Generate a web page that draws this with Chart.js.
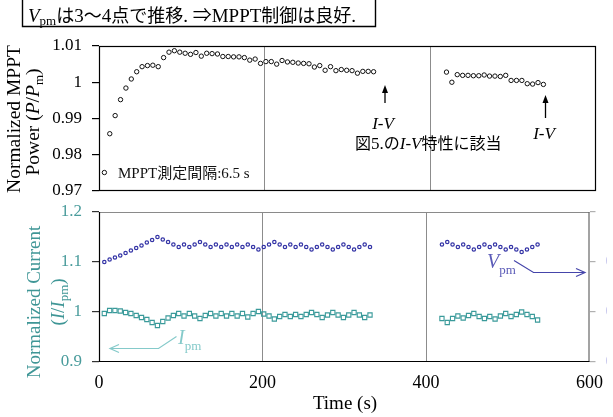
<!DOCTYPE html>
<html><head><meta charset="utf-8">
<script src="https://cdn.jsdelivr.net/npm/chart.js@4.4.1/dist/chart.umd.min.js"></script>
<style>
html,body{margin:0;padding:0;background:#fff;overflow:hidden;width:613px;height:417px;}
canvas{position:absolute;left:0;top:0;}
</style></head>
<body>
<canvas id="top" width="613" height="417"></canvas>
<canvas id="bot" width="613" height="417"></canvas>
<script>
// ---- data (time in s) ----
const times1 = [6.5, 13, 19.5, 26, 32.5, 39, 45.5, 52, 58.5, 65, 71.5, 78, 84.5, 91, 97.5, 104, 110.5, 117, 123.5, 130, 136.5, 143, 149.5, 156, 162.5, 169, 175.5, 182, 188.5, 195, 201.5, 208, 214.5, 221, 227.5, 234, 240.5, 247, 253.5, 260, 266.5, 273, 279.5, 286, 292.5, 299, 305.5, 312, 318.5, 325, 331.5];
const times2 = [419.5, 426, 432.5, 439, 445.5, 452, 458.5, 465, 471.5, 478, 484.5, 491, 497.5, 504, 510.5, 517, 523.5, 530, 536.5];
const power1 = [0.9751, 0.9858, 0.9908, 0.9952, 0.9984, 1.0009, 1.0029, 1.0043, 1.0046, 1.0047, 1.0043, 1.0068, 1.0083, 1.0087, 1.0083, 1.0080, 1.0077, 1.0082, 1.0072, 1.0080, 1.0079, 1.0078, 1.0071, 1.0071, 1.0070, 1.0070, 1.0068, 1.0061, 1.0064, 1.0052, 1.0057, 1.0057, 1.0050, 1.0060, 1.0056, 1.0055, 1.0053, 1.0052, 1.0051, 1.0042, 1.0046, 1.0033, 1.0043, 1.0032, 1.0035, 1.0033, 1.0032, 1.0025, 1.0030, 1.0030, 1.0029];
const power2 = [1.0028, 1.0000, 1.0021, 1.0019, 1.0019, 1.0018, 1.0018, 1.0020, 1.0017, 1.0017, 1.0016, 1.0019, 1.0005, 1.0005, 1.0005, 0.9996, 0.9995, 0.9999, 0.9994];
const ipm1 = [0.997, 1.003, 1.003, 1.002, 0.999, 0.997, 0.993, 0.989, 0.985, 0.979, 0.973, 0.981, 0.988, 0.993, 0.997, 0.992, 0.997, 0.992, 0.987, 0.993, 0.997, 0.992, 0.997, 0.992, 0.997, 0.992, 0.997, 0.990, 0.997, 1.001, 0.996, 0.992, 0.986, 0.991, 0.995, 0.991, 0.995, 0.991, 0.995, 0.999, 0.995, 0.989, 0.994, 0.999, 0.994, 0.989, 0.994, 0.999, 0.994, 0.989, 0.994];
const ipm2 = [0.987, 0.979, 0.987, 0.992, 0.988, 0.993, 0.997, 0.991, 0.987, 0.991, 0.986, 0.992, 0.997, 0.991, 0.995, 1.000, 0.995, 0.991, 0.984];
const vpm1 = [0.900, 0.905, 0.909, 0.913, 0.918, 0.923, 0.928, 0.933, 0.939, 0.944, 0.950, 0.945, 0.940, 0.935, 0.930, 0.935, 0.930, 0.935, 0.940, 0.935, 0.930, 0.935, 0.930, 0.935, 0.930, 0.935, 0.930, 0.935, 0.930, 0.925, 0.930, 0.935, 0.940, 0.935, 0.930, 0.935, 0.930, 0.935, 0.930, 0.925, 0.930, 0.935, 0.930, 0.925, 0.930, 0.935, 0.930, 0.925, 0.930, 0.935, 0.930];
const vpm2 = [0.935, 0.940, 0.935, 0.930, 0.935, 0.930, 0.925, 0.930, 0.935, 0.930, 0.935, 0.930, 0.925, 0.930, 0.925, 0.920, 0.925, 0.930, 0.935];

// ---- ticks ----
const xTicks = [0, 200, 400, 600];
const xLabels = ['0', '200', '400', '600'];
const topYTicks = [0.97, 0.98, 0.99, 1, 1.01];
const topYLabels = ['0.97', '0.98', '0.99', '1', '1.01'];
const curTicks = [0.9, 1.0, 1.1, 1.2];
const curLabels = ['0.9', '1', '1.1', '1.2'];
const voltTicks = [0.7, 0.8, 0.9, 1.0];
const voltLabels = ['0.7', '0.8', '0.9', '1'];

const pts = (t, v) => t.map((x, i) => ({x: x, y: v[i]}));

const SER = '"Liberation Serif", "Noto Sans CJK JP", serif';
const JP = '"Noto Sans CJK JP", sans-serif';
const TEAL = '#3f9696';

function runs(ctx, x, y, list, align, color) {
  let w = 0;
  list.forEach(r => { ctx.font = r.f; w += ctx.measureText(r.t).width; });
  let cx = align === 'center' ? x - w / 2 : x;
  ctx.textAlign = 'left'; ctx.textBaseline = 'alphabetic';
  list.forEach(r => {
    ctx.font = r.f; ctx.fillStyle = r.c || color;
    ctx.fillText(r.t, cx, y + (r.dy || 0));
    cx += ctx.measureText(r.t).width;
  });
}
function rotRuns(ctx, bx, cy, list, color) {
  ctx.save(); ctx.translate(bx, cy); ctx.rotate(-Math.PI / 2);
  runs(ctx, 0, 0, list, 'center', color); ctx.restore();
}
function upArrow(ctx, x, y0, tip) {
  ctx.strokeStyle = '#000'; ctx.fillStyle = '#000'; ctx.lineWidth = 1.3;
  ctx.beginPath(); ctx.moveTo(x, y0); ctx.lineTo(x, tip + 5); ctx.stroke();
  ctx.beginPath(); ctx.moveTo(x, tip); ctx.lineTo(x - 3, tip + 8); ctx.lineTo(x + 3, tip + 8); ctx.closePath(); ctx.fill();
}
function polyArrow(ctx, p, color, dir) {
  ctx.strokeStyle = color; ctx.lineWidth = 1.2;
  ctx.beginPath(); ctx.moveTo(p[0][0], p[0][1]);
  for (let i = 1; i < p.length; i++) ctx.lineTo(p[i][0], p[i][1]);
  ctx.stroke();
  const t = p[p.length - 1];
  ctx.beginPath(); ctx.moveTo(t[0] - dir * 9, t[1] - 4); ctx.lineTo(t[0], t[1]); ctx.lineTo(t[0] - dir * 9, t[1] + 4); ctx.stroke();
}

const setTicks = arr => s => { s.ticks = arr.map(v => ({value: v})); };
const gridCol = c => (c.tick && (c.tick.value === 200 || c.tick.value === 400)) ? '#8c8c8c' : 'rgba(0,0,0,0)';

const topPlugin = {
  id: 'topDeco',
  afterDraw(chart) {
    const ctx = chart.ctx, a = chart.chartArea;
    ctx.save();
    ctx.strokeStyle = '#000'; ctx.lineWidth = 1.2;
    ctx.strokeRect(a.left + 0.5, a.top + 0.5, a.right - a.left - 1, a.bottom - a.top - 1);
    // header box
    ctx.lineWidth = 1.4;
    ctx.beginPath(); ctx.moveTo(22.5, -2); ctx.lineTo(22.5, 26.5); ctx.lineTo(375.5, 26.5); ctx.lineTo(375.5, -2); ctx.stroke();
    runs(ctx, 28, 21.5, [
      {t: 'V', f: 'italic 19px ' + SER}, {t: 'pm', f: '13px ' + SER, dy: 3},
      {t: 'は', f: '18px ' + JP}, {t: '3', f: '19px ' + SER}, {t: '～', f: '18px ' + JP},
      {t: '4', f: '19px ' + SER}, {t: '点で推移', f: '18px ' + JP}, {t: '. ', f: '19px ' + SER},
      {t: '⇒', f: '19px ' + SER}, {t: 'MPPT', f: '19px ' + SER}, {t: '制御は良好', f: '18px ' + JP},
      {t: '.', f: '19px ' + SER}
    ], 'left', '#000');
    // y title
    rotRuns(ctx, 19.5, 119, [{t: 'Normalized MPPT', f: '19.5px ' + SER}], '#000');
    rotRuns(ctx, 39, 122, [
      {t: 'Power (', f: '19.5px ' + SER}, {t: 'P', f: 'italic 19.5px ' + SER}, {t: '/', f: '19.5px ' + SER},
      {t: 'P', f: 'italic 19.5px ' + SER}, {t: 'm', f: '13px ' + SER, dy: 4}, {t: ')', f: '19.5px ' + SER}
    ], '#000');
    // annotations
    runs(ctx, 118, 177.5, [{t: 'MPPT', f: '15px ' + SER}, {t: '測定間隔', f: '15px ' + JP}, {t: ':6.5 s', f: '15px ' + SER}], 'left', '#111');
    upArrow(ctx, 385, 103, 85);
    runs(ctx, 383, 129, [{t: 'I-V', f: 'italic 17px ' + SER}], 'center', '#000');
    upArrow(ctx, 545.5, 118, 95);
    runs(ctx, 544, 139, [{t: 'I-V', f: 'italic 17px ' + SER}], 'center', '#000');
    runs(ctx, 355, 149, [
      {t: '図', f: '16px ' + JP}, {t: '5.', f: '17px ' + SER}, {t: 'の', f: '16px ' + JP},
      {t: 'I-V', f: 'italic 17px ' + SER}, {t: '特性に該当', f: '16px ' + JP}
    ], 'left', '#000');
    ctx.restore();
  }
};

const botPlugin = {
  id: 'botDeco',
  afterDraw(chart) {
    const ctx = chart.ctx, a = chart.chartArea;
    ctx.save();
    ctx.lineWidth = 1.2;
    ctx.strokeStyle = '#8a8a8a';
    ctx.beginPath(); ctx.moveTo(a.left, a.top + 0.5); ctx.lineTo(a.right, a.top + 0.5); ctx.stroke();
    ctx.strokeStyle = '#666';
    ctx.beginPath(); ctx.moveTo(a.right - 0.5, a.top); ctx.lineTo(a.right - 0.5, a.bottom); ctx.stroke();
    ctx.strokeStyle = '#000';
    ctx.beginPath(); ctx.moveTo(a.left + 0.5, a.top); ctx.lineTo(a.left + 0.5, a.bottom - 0.5); ctx.lineTo(a.right, a.bottom - 0.5); ctx.stroke();
    // y title
    rotRuns(ctx, 39.5, 302, [{t: 'Normalized Current', f: '19px ' + SER}], TEAL);
    rotRuns(ctx, 64, 302, [
      {t: '(', f: '19px ' + SER}, {t: 'I', f: 'italic 19px ' + SER}, {t: '/', f: '19px ' + SER},
      {t: 'I', f: 'italic 19px ' + SER}, {t: 'pm', f: '13px ' + SER, dy: 4}, {t: ')', f: '19px ' + SER}
    ], TEAL);
    // x title
    runs(ctx, 345, 409, [{t: 'Time (s)', f: '19px ' + SER}], 'center', '#000');
    // Ipm label + arrow
    runs(ctx, 178, 343.5, [{t: 'I', f: 'italic 20px ' + SER}, {t: 'pm', f: '13px ' + SER, dy: 6}], 'left', '#85caca');
    polyArrow(ctx, [[176.5, 336.5], [158.5, 348.5], [110, 348.5]], '#85caca', -1);
    // Vpm label + arrow
    runs(ctx, 487, 268, [{t: 'V', f: 'italic 20px ' + SER}, {t: 'pm', f: '13px ' + SER, dy: 6}], 'left', '#5c5cb8');
    polyArrow(ctx, [[514, 260.5], [533.5, 272.5], [585, 272.5]], '#4545aa', 1);
    ctx.restore();
  }
};

new Chart(document.getElementById('top'), {
  type: 'scatter',
  data: {datasets: [{
    data: pts(times1, power1).concat(pts(times2, power2)),
    pointStyle: 'circle', pointRadius: 2.2, borderColor: '#111', backgroundColor: '#fff', borderWidth: 1, showLine: false
  }]},
  options: {
    animation: false, responsive: false, devicePixelRatio: 1,
    layout: {padding: {top: 46, left: 0, right: 17, bottom: 0}},
    plugins: {legend: {display: false}, tooltip: {enabled: false}},
    scales: {
      x: {type: 'linear', min: 0, max: 600, afterBuildTicks: setTicks(xTicks),
          ticks: {display: false}, grid: {color: gridCol, drawTicks: false, lineWidth: 1},
          border: {display: false}, afterFit: s => { s.height = 417 - 191; }},
      y: {min: 0.97, max: 1.01, afterBuildTicks: setTicks(topYTicks),
          ticks: {callback: (v, i) => topYLabels[i], color: '#000', font: {family: '"Liberation Serif"', size: 17}, padding: 10},
          grid: {drawOnChartArea: false, drawTicks: true, tickLength: 7, tickColor: '#000', lineWidth: 1.2},
          border: {display: false}, afterFit: s => { s.width = 99; }}
    }
  },
  plugins: [topPlugin]
});

new Chart(document.getElementById('bot'), {
  type: 'scatter',
  data: {datasets: [
    {data: pts(times1, ipm1).concat(pts(times2, ipm2)), yAxisID: 'y',
     pointStyle: 'rect', pointRadius: 3, borderColor: '#3a9a9a', backgroundColor: 'rgba(255,255,255,0)', borderWidth: 1.1, showLine: false},
    {data: pts(times1, vpm1).concat(pts(times2, vpm2)), yAxisID: 'y2',
     pointStyle: 'circle', pointRadius: 1.7, borderColor: '#3434a6', backgroundColor: 'rgba(255,255,255,0)', borderWidth: 1.2, showLine: false}
  ]},
  options: {
    animation: false, responsive: false, devicePixelRatio: 1,
    layout: {padding: {top: 212, left: 0, right: 0, bottom: 0}},
    plugins: {legend: {display: false}, tooltip: {enabled: false}},
    scales: {
      x: {type: 'linear', min: 0, max: 600, afterBuildTicks: setTicks(xTicks),
          ticks: {callback: (v, i) => xLabels[i], color: '#000', font: {family: '"Liberation Serif"', size: 18}, padding: 10, maxRotation: 0},
          grid: {color: gridCol, drawTicks: false, lineWidth: 1},
          border: {display: false}, afterFit: s => { s.height = 417 - 362; }},
      y: {position: 'left', min: 0.9, max: 1.2, afterBuildTicks: setTicks(curTicks),
          ticks: {callback: (v, i) => curLabels[i], color: '#4a9c9c', font: {family: '"Liberation Serif"', size: 17}, padding: 10},
          grid: {drawOnChartArea: false, drawTicks: true, tickLength: 7, tickColor: '#333', lineWidth: 1.2},
          border: {display: false}, afterFit: s => { s.width = 99; }},
      y2: {position: 'right', min: 0.7, max: 1.0, afterBuildTicks: setTicks(voltTicks),
          ticks: {callback: (v, i) => voltLabels[i], color: '#8080d4', font: {family: '"Liberation Serif"', size: 17}, padding: 10},
          grid: {drawOnChartArea: false, drawTicks: true, tickLength: 6, tickColor: '#b0b0b0', lineWidth: 1.2},
          border: {display: false}, afterFit: s => { s.width = 17; }}
    }
  },
  plugins: [botPlugin]
});
</script>
</body></html>
